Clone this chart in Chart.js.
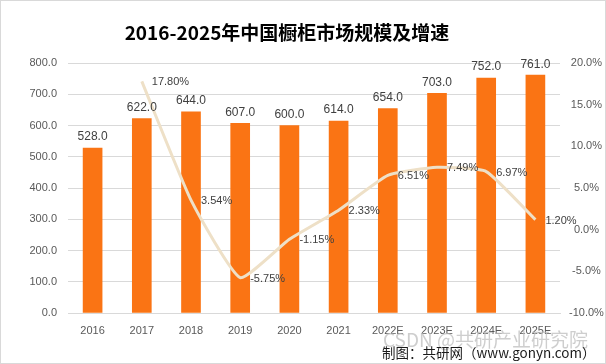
<!DOCTYPE html>
<html><head><meta charset="utf-8">
<script src="https://cdn.jsdelivr.net/npm/chart.js@4/dist/chart.umd.min.js"></script>
<style>
html,body{margin:0;padding:0;background:#fff;}
#wrap{position:relative;width:606px;height:364px;box-sizing:border-box;border:1px solid #d9d9d9;}
canvas{display:block;}
</style></head>
<body><div id="wrap"><canvas id="c" width="604" height="362"></canvas></div>
<script>
const categories = ['2016','2017','2018','2019','2020','2021','2022E','2023E','2024E','2025E'];
const marketSize = [528.0, 622.0, 644.0, 607.0, 600.0, 614.0, 654.0, 703.0, 752.0, 761.0];
const growthRate = [null, 17.80, 3.54, -5.75, -1.15, 2.33, 6.51, 7.49, 6.97, 1.20];
const leftTicks = [0,100,200,300,400,500,600,700,800];
const rightTicks = [-10,-5,0,5,10,15,20];
const titleText = '2016-2025年中国橱柜市场规模及增速';
const watermark = 'CSDN @共研产业研究院';
const sourceText = '制图：共研网（www.gonyn.com）';

const FONT = '"Liberation Sans", "Noto Sans CJK SC", sans-serif';

const labelPlugin = {
  id: 'labels',
  afterDatasetsDraw(chart) {
    const ctx = chart.ctx;
    ctx.save();
    const barMeta = chart.getDatasetMeta(0);
    ctx.font = '12px ' + FONT;
    ctx.fillStyle = '#404040';
    ctx.textAlign = 'center';
    ctx.textBaseline = 'bottom';
    barMeta.data.forEach((el, i) => {
      ctx.fillText(marketSize[i].toFixed(1), el.x, el.y - 5);
    });
    const lineMeta = chart.getDatasetMeta(1);
    ctx.font = '11px ' + FONT;
    ctx.textAlign = 'left';
    ctx.textBaseline = 'middle';
    lineMeta.data.forEach((el, i) => {
      if (growthRate[i] === null) return;
      ctx.fillText(growthRate[i].toFixed(2) + '%', el.x + 10, el.y + 1);
    });
    ctx.restore();
  },
  afterDraw(chart) {
    const ctx = chart.ctx;
    ctx.save();
    ctx.font = 'bold 19px "Noto Sans CJK SC", sans-serif';
    ctx.fillStyle = '#000';
    ctx.textAlign = 'center';
    ctx.textBaseline = 'middle';
    ctx.fillText(titleText, 286, 32);
    ctx.font = '19px "Noto Sans CJK SC", sans-serif';
    ctx.fillStyle = 'rgba(190,190,190,0.75)';
    ctx.textAlign = 'left';
    ctx.fillText(watermark, 382, 339);
    ctx.font = '13.5px "Noto Sans CJK SC", sans-serif';
    ctx.fillStyle = '#1a1a1a';
    ctx.fillText(sourceText, 381, 352);
    ctx.restore();
  }
};

new Chart(document.getElementById('c'), {
  data: {
    labels: categories,
    datasets: [
      { type: 'bar', data: marketSize, backgroundColor: '#FA7414', barThickness: 19, yAxisID: 'y', order: 2 },
      { type: 'line', data: growthRate, borderColor: '#EEE0C7', borderWidth: 3, pointRadius: 0, tension: 0.15, yAxisID: 'y1', order: 1, spanGaps: true }
    ]
  },
  options: {
    responsive: false,
    animation: false,
    devicePixelRatio: 1,
    layout: { padding: { top: 62, bottom: 26, left: 0, right: 0 } },
    plugins: { legend: { display: false }, tooltip: { enabled: false } },
    scales: {
      x: {
        grid: { display: false },
        border: { display: true, color: '#d9d9d9' },
        ticks: { color: '#595959', font: { size: 11, family: FONT }, padding: 3, maxRotation: 0 },
        afterFit(s) { s.height = 24; }
      },
      y: {
        position: 'left', min: 0, max: 800,
        afterBuildTicks(s) { s.ticks = leftTicks.map(v => ({ value: v })); },
        grid: { color: '#d9d9d9', drawTicks: false },
        border: { display: false },
        ticks: { color: '#595959', font: { size: 11, family: FONT }, padding: 11, callback: v => v.toFixed(1) },
        afterFit(s) { s.width = 67; }
      },
      y1: {
        position: 'right', min: -10, max: 20,
        afterBuildTicks(s) { s.ticks = rightTicks.map(v => ({ value: v })); },
        grid: { display: false, drawTicks: false },
        border: { display: false },
        ticks: { color: '#595959', font: { size: 11, family: FONT }, padding: 9, crossAlign: 'center', callback: v => v.toFixed(1) + '%' },
        afterFit(s) { s.width = 45; }
      }
    }
  },
  plugins: [labelPlugin]
});
</script></body></html>
